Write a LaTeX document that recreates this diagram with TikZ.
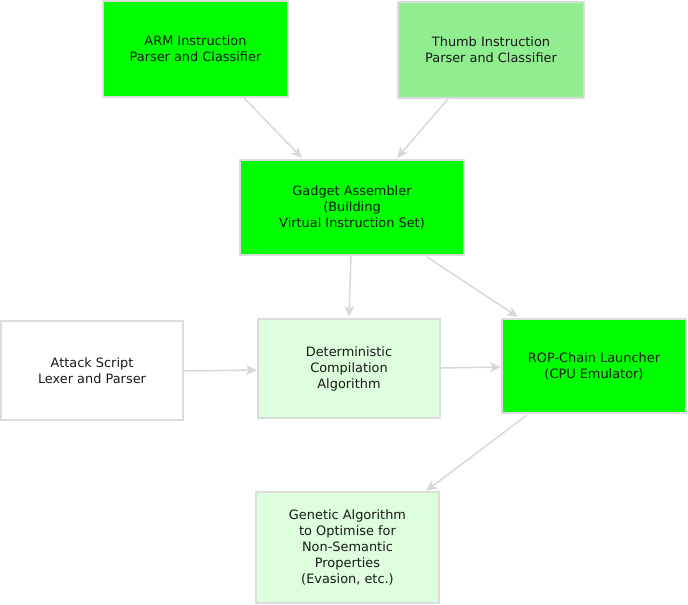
\documentclass[tikz,border=0pt]{standalone}
\usepackage{fontspec}
\setmainfont{DejaVu Sans}
\usetikzlibrary{arrows.meta}
\definecolor{bord}{HTML}{DCDCDC}
\definecolor{arr}{HTML}{D8D8D8}
\definecolor{bright}{HTML}{00FF00}
\definecolor{lgreen}{HTML}{90EE90}
\definecolor{pale}{HTML}{DDFFDD}
\tikzset{
  box/.style={draw=bord, line width=1.8pt, inner sep=0pt, align=center,
    font=\fontsize{12.9}{16}\selectfont, text=black!90},
  conn/.style={draw=arr, line width=1.5pt, -{Stealth[length=11pt,width=10pt,inset=3pt]}}
}
\begin{document}
\begin{tikzpicture}[x=1pt,y=-1pt]
\useasboundingbox (0,0) rectangle (688,605);
\newcommand\bx[7]{\node[box, fill=#6, minimum width=#4-#2, minimum height=#5-#3] (#1) at ({(#2+#4)/2},{(#3+#5)/2}) {#7};}
\bx{arm}{103}{1}{288}{97}{bright}{ARM Instruction\\Parser and Classifier}
\bx{thumb}{398}{2}{584}{98}{lgreen}{Thumb Instruction\\Parser and Classifier}
\bx{gadget}{240}{160}{464}{255}{bright}{Gadget Assembler\\(Building\\Virtual Instruction Set)}
\bx{attack}{1}{321}{183}{420}{white}{Attack Script\\Lexer and Parser}
\bx{det}{258}{319}{440}{418}{pale}{Deterministic\\Compilation\\Algorithm}
\bx{rop}{502}{319}{686}{413}{bright}{ROP-Chain Launcher\\(CPU Emulator)}
\bx{gen}{256}{492}{439}{603}{pale}{Genetic Algorithm\\to Optimise for\\Non-Semantic\\Properties\\(Evasion, etc.)}
\coordinate (a1) at (244,98);
\coordinate (a2) at (302,158);
\coordinate (b1) at (448,99);
\coordinate (b2) at (397,158);
\coordinate (c1) at (351,256);
\coordinate (c2) at (349,317);
\coordinate (d1) at (427,257);
\coordinate (d2) at (518,317);
\coordinate (e1) at (184,371);
\coordinate (e2) at (257,370);
\coordinate (f1) at (441,368);
\coordinate (f2) at (501,367);
\coordinate (g1) at (527,415);
\coordinate (g2) at (426,491);
\draw[conn] (a1) -- (a2);
\draw[conn] (b1) -- (b2);
\draw[conn] (c1) -- (c2);
\draw[conn] (d1) -- (d2);
\draw[conn] (e1) -- (e2);
\draw[conn] (f1) -- (f2);
\draw[conn] (g1) -- (g2);
\end{tikzpicture}
\end{document}
